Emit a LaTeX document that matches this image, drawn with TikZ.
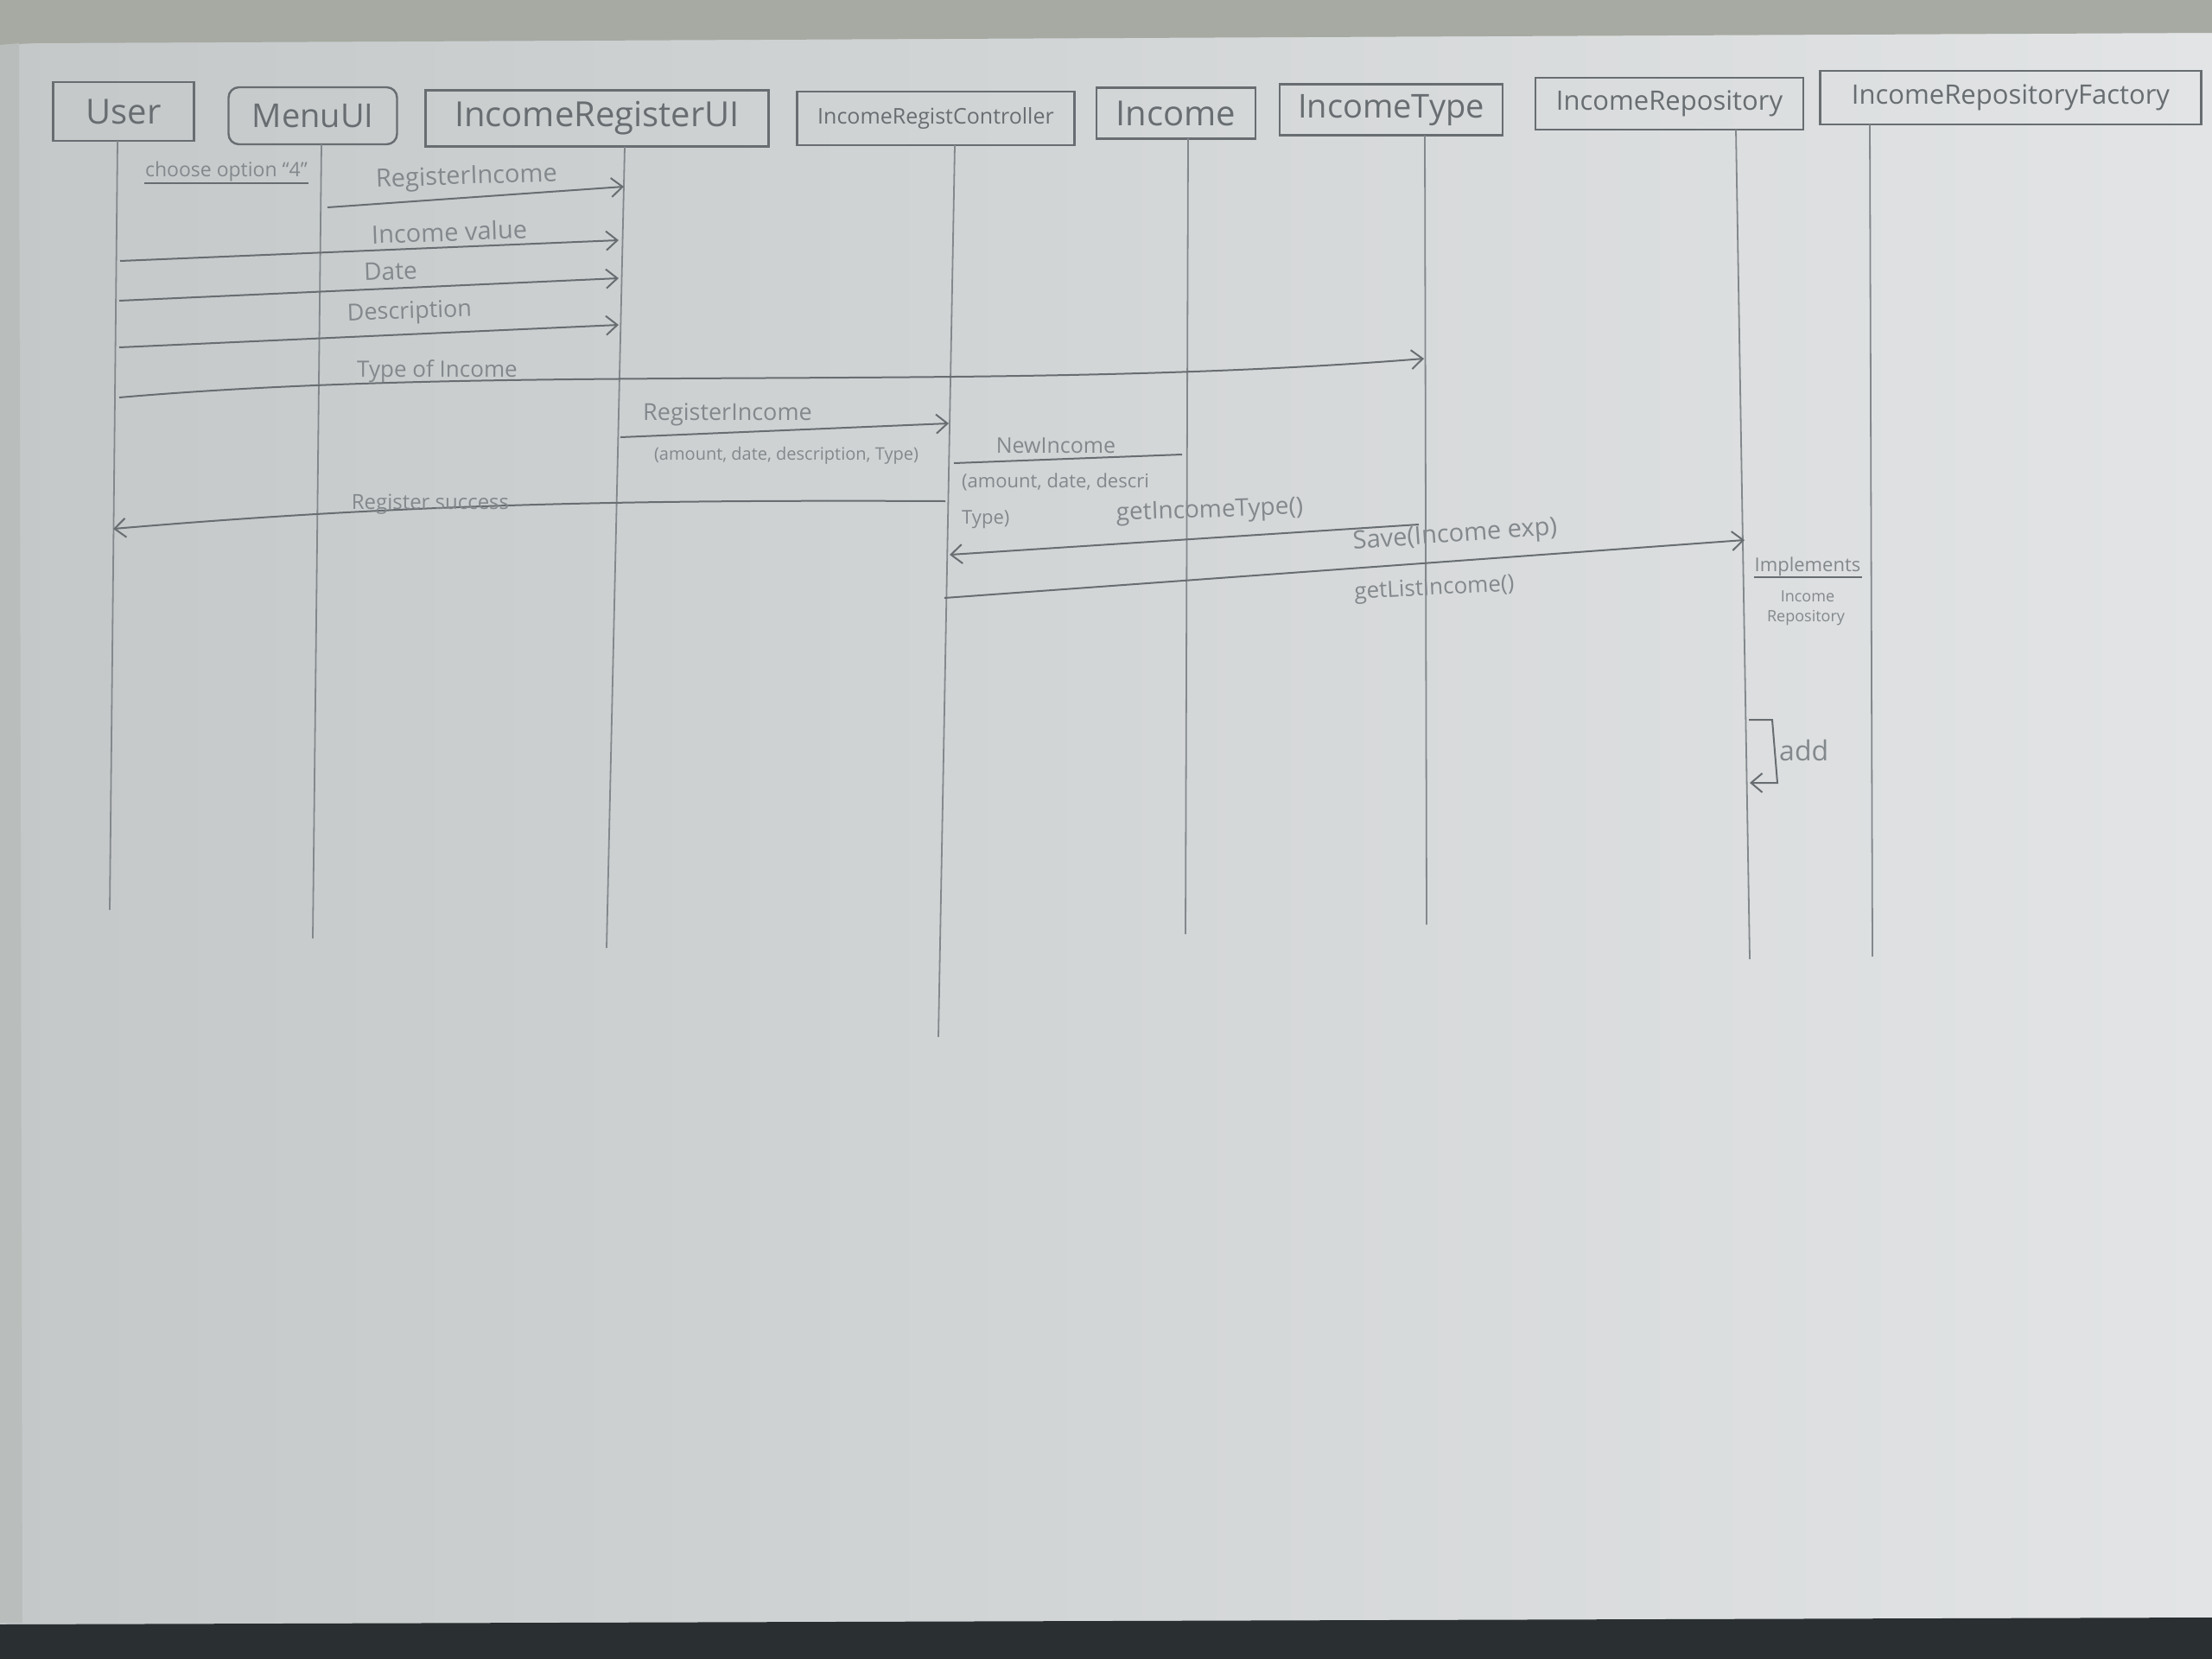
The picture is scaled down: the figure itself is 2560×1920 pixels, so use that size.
\documentclass[tikz,border=0pt]{standalone}
\usepackage{fontspec}
\setmainfont{Open Sans}
\usetikzlibrary{arrows.meta,calc}

\definecolor{paperL}{HTML}{C4C8C9}
\definecolor{paperR}{HTML}{E2E4E5}
\definecolor{edgegray}{HTML}{A6AAA2}
\definecolor{floorgray}{HTML}{2A2F32}
\definecolor{pencil}{HTML}{686D71}
\definecolor{faint}{HTML}{83888C}

\begin{document}
\begin{tikzpicture}[x=1pt,y=-1pt,
  obj/.style={draw=pencil, line width=2.4pt, text=pencil, inner sep=0pt,
    font=\fontsize{#1}{#1}\selectfont},
  obj/.default=36,
  life/.style={draw=faint, line width=1.8pt},
  msg/.style={draw=pencil, line width=2pt},
  tip/.style={-{Straight Barb[length=13pt,width=22pt,line width=2pt]}},
  lbl/.style={text=faint, inner sep=1pt, font=\fontsize{#1}{#1}\selectfont},
  lbl/.default=26,
]

% sheet of paper, the strip above it and the desk below
\useasboundingbox (0,0) rectangle (2560,1920);
\shade[left color=paperL, right color=paperR] (0,0) rectangle (2560,1920);
\fill[edgegray] (0,0) -- (2560,0) -- (2560,38) -- (40,50) -- (0,52) -- cycle;
\fill[edgegray!35!paperL] (0,52) -- (22,50) -- (26,1878) -- (0,1878) -- cycle;
\fill[floorgray] (0,1880) -- (2560,1872) -- (2560,1920) -- (0,1920) -- cycle;

% participants
\node[obj=40, minimum width=163pt, minimum height=68pt] (user) at (143,129) {User};
\node[obj=38, minimum width=195pt, minimum height=66pt, rounded corners=12pt] (menu) at (362,134) {MenuUI};
\node[obj=40, minimum width=397pt, minimum height=65pt] (regui) at (691,137) {IncomeRegisterUI};
\node[obj=25, minimum width=321pt, minimum height=62pt] (ctrl) at (1083,137) {IncomeRegistController};
\node[obj=40, minimum width=184pt, minimum height=59pt] (income) at (1361,131) {Income};
\node[obj=38, minimum width=258pt, minimum height=59pt] (itype) at (1610,127) {IncomeType};
\node[obj=31, minimum width=310pt, minimum height=60pt] (repo) at (1932,120) {IncomeRepository};
\node[obj=31, minimum width=441pt, minimum height=62pt] (fact) at (2327,113) {IncomeRepositoryFactory};

% lifelines
\coordinate (uT) at (136,163);  \coordinate (uB) at (127,1053);
\coordinate (mT) at (372,167);  \coordinate (mB) at (362,1086);
\coordinate (rT) at (723,170);  \coordinate (rB) at (702,1097);
\coordinate (cT) at (1105,168); \coordinate (cB) at (1086,1200);
\coordinate (iT) at (1375,160); \coordinate (iB) at (1372,1081);
\coordinate (tT) at (1649,157); \coordinate (tB) at (1651,1070);
\coordinate (pT) at (2009,150); \coordinate (pB) at (2025,1110);
\coordinate (fT) at (2164,144); \coordinate (fB) at (2167,1107);
\foreach \a/\b in {uT/uB,mT/mB,rT/rB,cT/cB,iT/iB,tT/tB,pT/pB,fT/fB}
  \draw[life] (\a) -- (\b);

% choose option
\node[lbl=23] (m1) at (262,199) {choose option ``4''};
\draw[msg] (m1.south west) -- (m1.south east);

% RegisterIncome from the menu
\coordinate (m2s) at (379,240); \coordinate (m2e) at (722,216);
\draw[msg,tip] (m2s) -- (m2e);
\node[lbl=29, rotate=2] (m2) at (540,206) {RegisterIncome};

% values typed by the user
\coordinate (m3s) at (139,302); \coordinate (m3e) at (716,278);
\draw[msg,tip] (m3s) -- (m3e);
\node[lbl=29, rotate=2] (m3) at (520,268) {Income value};

\coordinate (m4s) at (138,348); \coordinate (m4e) at (716,322);
\draw[msg,tip] (m4s) -- (m4e);
\node[lbl=28, rotate=2] (m4) at (452,314) {Date};

\coordinate (m5s) at (138,402); \coordinate (m5e) at (716,376);
\draw[msg,tip] (m5s) -- (m5e);
\node[lbl=27, rotate=2] (m5) at (474,362) {Description};

\coordinate (m6s) at (138,460); \coordinate (m6e) at (1648,415);
\draw[msg,tip] (m6s) .. controls (600,420) and (1150,455) .. (m6e);
\node[lbl=26] (m6) at (506,430) {Type of Income};

% RegisterIncome towards the controller
\coordinate (m7s) at (718,506); \coordinate (m7e) at (1098,490);
\draw[msg,tip] (m7s) -- (m7e);
\node[lbl=27] (m7) at (842,480) {RegisterIncome};
\node[lbl=20] (m7b) at (910,527) {(amount, date, description, Type)};

% NewIncome
\coordinate (m8s) at (1104,536); \coordinate (m8e) at (1368,526);
\draw[msg] (m8s) -- (m8e);
\node[lbl=25] (m8) at (1222,516) {NewIncome};
\node[lbl=22, anchor=west] (m8b) at (1112,558) {(amount, date, descri};
\node[lbl=22, anchor=west] (m8c) at (1112,601) {Type)};

% success returned to the user
\coordinate (m9s) at (1094,580); \coordinate (m9e) at (131,612);
\draw[msg,tip] (m9s) .. controls (700,578) and (450,585) .. (m9e);
\node[lbl=24] (m9) at (498,584) {Register success};

% getIncomeType
\coordinate (m10s) at (1642,607); \coordinate (m10e) at (1099,642);
\draw[msg,tip] (m10s) -- (m10e);
\node[lbl=28, rotate=2] (m10) at (1400,592) {getIncomeType()};

% Save
\coordinate (m11s) at (1093,692); \coordinate (m11e) at (2019,625);
\draw[msg,tip] (m11s) -- (m11e);
\node[lbl=29, rotate=4] (m11) at (1684,620) {Save(Income exp)};
\node[lbl=26, rotate=3] (m11b) at (1660,682) {getListIncome()};

% repository implementation note
\node[lbl=22] (imp) at (2092,656) {Implements};
\draw[msg] (imp.south west) -- (imp.south east);
\node[lbl=18] (imp2) at (2092,690) {Income};
\node[lbl=18] (imp3) at (2090,715) {Repository};

% self call add
\coordinate (a1) at (2024,833);
\coordinate (a2) at (2051,833);
\coordinate (a3) at (2057,906);
\coordinate (a4) at (2025,906);
\draw[msg,tip] (a1) -- (a2) -- (a3) -- (a4);
\node[lbl=32, anchor=west] (add) at (2058,868) {add};

\end{tikzpicture}
\end{document}
